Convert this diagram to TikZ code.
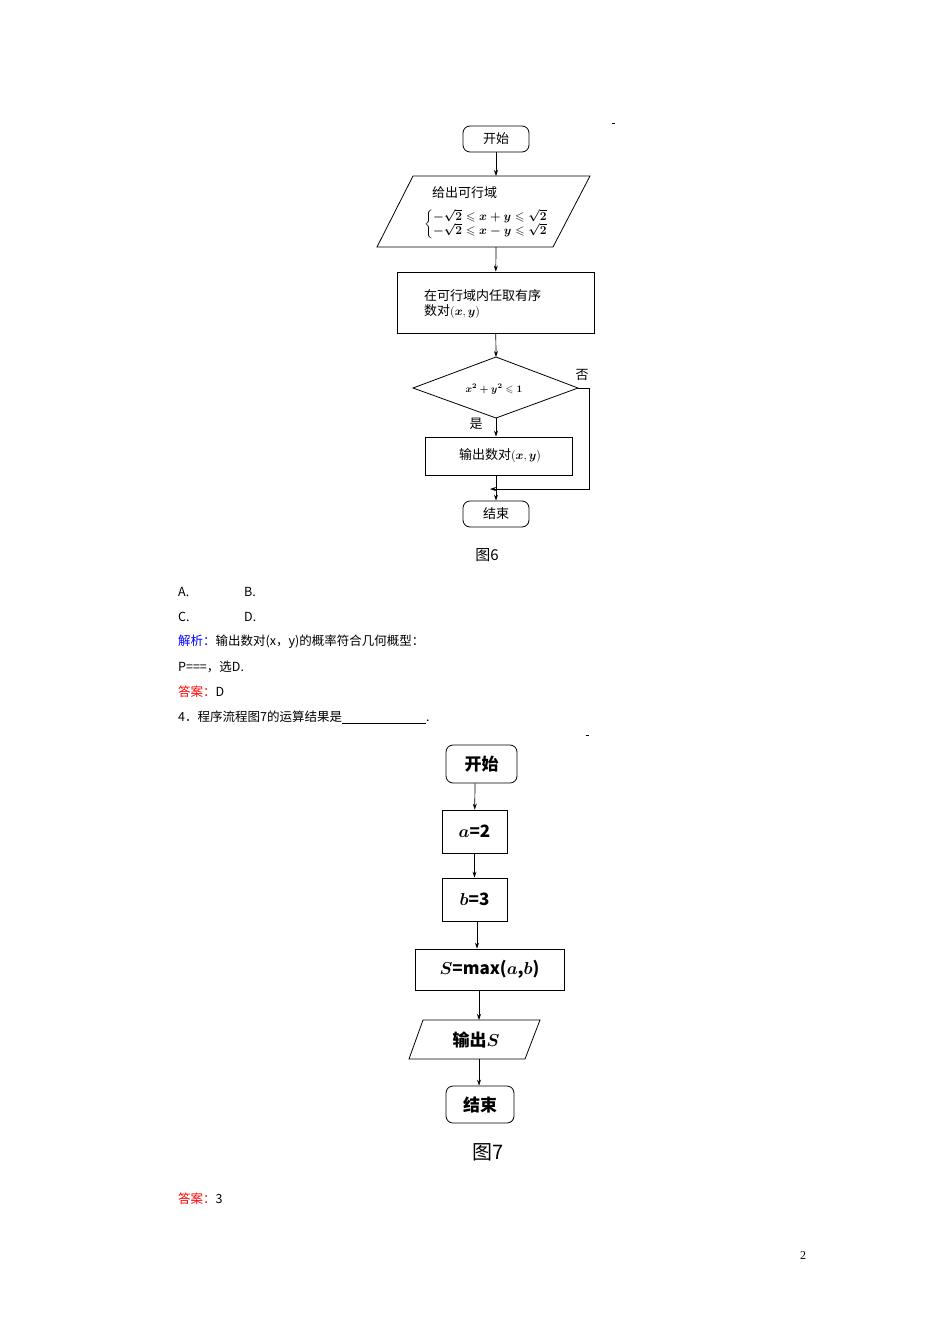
\documentclass[tikz,border=0pt]{standalone}
\usepackage{amsmath,amssymb}
\usepackage{fontspec}
\setmainfont{Liberation Serif}
\newfontfamily\cjk{Noto Sans CJK SC}
\usetikzlibrary{arrows.meta}
\begin{document}
\begin{tikzpicture}[x=1pt,y=-1pt,
  box/.style={draw,line width=0.8pt,inner sep=0pt},
  rbox/.style={box,rounded corners=7pt},
  arr/.style={-{Stealth[length=6pt,width=4pt]},line width=0.7pt},
  t/.style={font=\cjk\fontsize{13}{15}\selectfont,inner sep=0pt},
  tb/.style={font=\cjk\bfseries\fontsize{17}{19}\selectfont,inner sep=0pt},
  body/.style={font=\cjk\fontsize{12.5}{14}\selectfont,anchor=west,inner sep=0pt}]
\useasboundingbox (0,0) rectangle (950,1344);
% ---------- Figure 6 ----------
\node[rbox,minimum width=66pt,minimum height=26pt,t] (s1) at (496,139) {开始};
\draw[line width=0.8pt] (413,176) -- (590,176) -- (553,247) -- (377,247) -- cycle;
\coordinate (p1t) at (496,176); \coordinate (p1b) at (496,247);
\node[t,anchor=west] (p1a) at (432,193) {给出可行域};
\node[anchor=west,inner sep=0pt,font=\fontsize{12}{13}\selectfont] (p1c) at (424,224)
 {$\left\{\begin{array}{@{}l@{}}\boldsymbol{-\sqrt{2}\leqslant x+y\leqslant\sqrt{2}}\\[-1pt]\boldsymbol{-\sqrt{2}\leqslant x-y\leqslant\sqrt{2}}\end{array}\right.$};
\node[box,minimum width=197pt,minimum height=61pt] (r1) at (495.5,302.5) {};
\node[t,anchor=west,align=left] (r1t) at (424,304) {在可行域内任取有序\\数对$(\boldsymbol{x},\boldsymbol{y})$};
\draw[line width=0.8pt] (413,388) -- (496,357) -- (578,388) -- (496,418) -- cycle;
\coordinate (dt) at (496,357); \coordinate (db) at (496,418); \coordinate (dr) at (578,388);
\node[inner sep=0pt] (dtxt) at (494,389) {$\boldsymbol{x^2+y^2\leqslant1}$};
\node[t] (no) at (582,375) {否};
\node[t] (yes) at (476,424) {是};
\node[box,minimum width=147pt,minimum height=38pt] (o1) at (498.5,456) {};
\node[t] (o1t) at (500,456) {输出数对$(\boldsymbol{x},\boldsymbol{y})$};
\node[rbox,minimum width=66pt,minimum height=26pt,t] (e1) at (496,514) {结束};
\coordinate (m1) at (490,489);
\draw[arr] (s1) -- (p1t);
\draw[arr] (p1b) -- (r1);
\draw[arr] (r1) -- (dt);
\draw[arr] (db) -- (o1.north-|db);
\draw[arr] (o1.south-|e1) -- (e1);
\draw[arr] (dr) -- (589,388) -- (589,489) -- (m1);
\node[font=\cjk\fontsize{15}{17}\selectfont] (f6) at (487,555) {图6};
% ---------- text ----------
\node[body] (ta) at (178,592) {A.};
\node[body] (tb) at (244,592) {B.};
\node[body] (tc) at (178,617) {C.};
\node[body] (td) at (244,617) {D.};
\node[body] (tj) at (178,642) {\textcolor{blue}{解析：}输出数对(\textit{x}，\textit{y})的概率符合几何概型：};
\node[body] (tp) at (178,667) {\textit{P}===，选D.};
\node[body] (tda) at (178,692) {\textcolor{red}{答案：}D};
\node[body] (t4) at (178,717) {4．程序流程图7的运算结果是\underline{\hspace{84pt}}.};
\draw (612,123) -- (615,123);
\draw (586,735) -- (589,735);
% ---------- Figure 7 ----------
\node[rbox,minimum width=71pt,minimum height=38pt,tb] (s2) at (481.5,764) {开始};
\node[box,minimum width=65pt,minimum height=43pt,tb] (a2) at (474.5,831.5) {$\boldsymbol{a}$=2};
\node[box,minimum width=65pt,minimum height=43pt,tb] (b2) at (474.5,899.5) {$\boldsymbol{b}$=3};
\node[box,minimum width=149pt,minimum height=41pt,tb] (m2) at (489.5,969.5) {$\boldsymbol{S}$=max($\boldsymbol{a}$,$\boldsymbol{b}$)};
\draw[line width=0.8pt] (423,1020) -- (540,1020) -- (525,1059) -- (409,1059) -- cycle;
\coordinate (p2t) at (479,1020); \coordinate (p2b) at (479,1059);
\node[tb] (p2) at (476,1040) {输出$\boldsymbol{S}$};
\node[rbox,minimum width=68pt,minimum height=37pt,tb] (e2) at (480,1104.5) {结束};
\draw[arr] (s2.south-|475,0) -- (a2);
\draw[arr] (a2) -- (b2);
\draw[arr] (b2.south-|477,0) -- (m2.north-|477,0);
\draw[arr] (m2.south-|479,0) -- (p2t);
\draw[arr] (p2b) -- (e2.north-|479,0);
\node[font=\cjk\fontsize{20}{22}\selectfont] (f7) at (488,1152) {图7};
\node[body] (tans) at (178,1199) {\textcolor{red}{答案：}3};
\node[font=\fontsize{12}{14}\selectfont] (pg) at (803,1256) {2};
\end{tikzpicture}
\end{document}
